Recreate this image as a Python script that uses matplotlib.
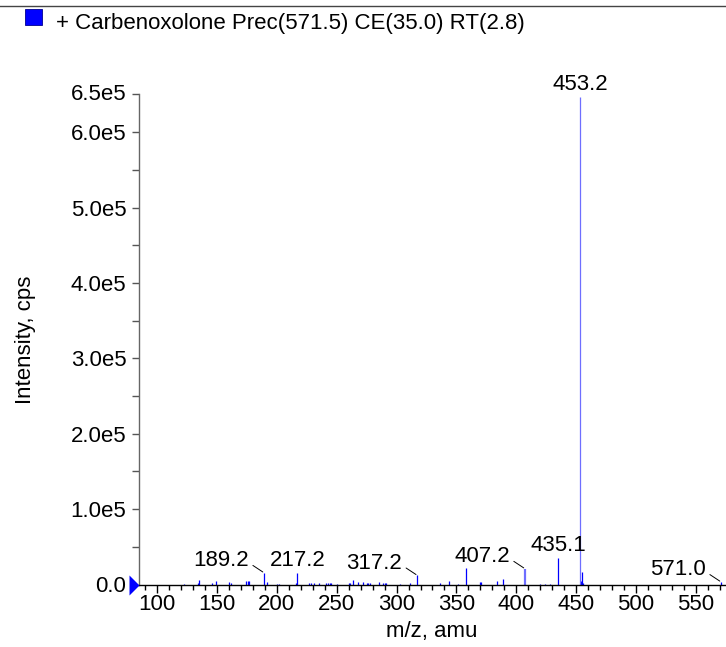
import matplotlib
matplotlib.use("Agg")
import matplotlib.pyplot as plt
import matplotlib.transforms as mtransforms
from matplotlib.lines import Line2D
from matplotlib.patches import Rectangle
from matplotlib.ticker import MultipleLocator

plt.rcParams['font.family'] = ['Liberation Sans', 'DejaVu Sans']

title_text = "+ Carbenoxolone Prec(571.5) CE(35.0) RT(2.8)"
x_label = "m/z, amu"
y_label = "Intensity, cps"

# Spectrum peaks (m/z, intensity in cps)
mz_values = [122.0, 134.0, 135.3, 146.2, 149.5, 160.0, 161.8, 174.3, 175.7, 177.0,
             189.2, 191.6, 200.0, 201.5, 215.8, 217.2, 227.0, 228.5, 230.6, 235.6,
             241.0, 242.5, 244.0, 245.6, 250.0, 259.9, 261.0, 264.0, 267.4, 271.6,
             275.0, 276.5, 278.0, 285.7, 288.6, 290.0, 291.3, 303.0, 311.3, 317.2,
             336.5, 343.4, 351.7, 357.6, 369.3, 370.4, 383.6, 389.3, 420.0, 424.0,
             428.0, 435.1, 454.2, 455.0, 456.0, 571.0]
intensities = [1000, 2000, 5500, 2000, 4000, 3000, 2500, 5000, 5000, 5000,
               15600, 3000, 1000, 1000, 2500, 14900, 1500, 1500, 1500, 2000,
               2500, 2500, 2500, 2500, 1000, 2000, 1500, 6000, 3500, 3500,
               1500, 1500, 1500, 3500, 2500, 2500, 2500, 1000, 2000, 12200,
               2000, 4000, 1000, 21500, 3500, 3500, 4500, 7000, 1000, 1000,
               1000, 34500, 5000, 16000, 2000, 3500]

# Peaks drawn in a lighter shade
light_mz = [407.2, 453.2]
light_int = [21000, 646000]

# Labelled peaks
label_mz = [189.2, 217.2, 317.2, 407.2, 435.1, 453.2, 571.0]
label_int = [15600, 14900, 12200, 21000, 34500, 646000, 3500]
label_text = ["189.2", "217.2", "317.2", "407.2", "435.1", "453.2", "571.0"]
label_leader = [True, False, True, True, False, False, True]

y_ticks = [0, 1e5, 2e5, 3e5, 4e5, 5e5, 6e5]
y_ticklabels = ["0.0", "1.0e5", "2.0e5", "3.0e5", "4.0e5", "5.0e5", "6.0e5"]
y_top_value = 6.5e5
y_top_label = "6.5e5"
x_ticks = [100, 150, 200, 250, 300, 350, 400, 450, 500, 550]

W, H = 726, 647
fig = plt.figure(figsize=(W / 100, H / 100), dpi=100)
ax = fig.add_axes([139 / W, (H - 584.5) / H, (725 - 139) / W, (584.5 - 94.4) / H])

fs = 16
blue = '#0000ff'
light = '#6e6eff'

ax.vlines(mz_values, 0, intensities, colors=blue, lw=0.9)
ax.vlines([light_mz[0]], 0, [light_int[0]], colors=light, lw=1.6)
ax.vlines([light_mz[1]], 0, [light_int[1]], colors=light, lw=0.9)

ax.set_xlim(84.8, 574.4)
ax.set_ylim(0, y_top_value)

for m, v, t, lead in zip(label_mz, label_int, label_text, label_leader):
    if lead:
        ax.annotate(t, xy=(m, v), xytext=(-15, 12), textcoords='offset pixels',
                    ha='right', va='center', fontsize=fs,
                    arrowprops=dict(arrowstyle='-', color='black', lw=0.7,
                                    relpos=(1.0, 0.4), shrinkA=1, shrinkB=1))
    else:
        ax.annotate(t, xy=(m, v), xytext=(0, 13), textcoords='offset pixels',
                    ha='center', va='center', fontsize=fs)

ax.spines['top'].set_visible(False)
ax.spines['right'].set_visible(False)
ax.spines['left'].set_color('#666666')
ax.spines['bottom'].set_color('black')
ax.spines['left'].set_linewidth(1.0)
ax.spines['bottom'].set_linewidth(1.0)

ax.set_xticks(x_ticks)
ax.set_xticklabels([str(v) for v in x_ticks], fontsize=fs)
ax.xaxis.set_minor_locator(MultipleLocator(10))
ax.set_yticks(y_ticks)
ax.set_yticklabels(y_ticklabels, fontsize=fs)
ax.yaxis.set_minor_locator(MultipleLocator(5e4))
ax.tick_params(axis='x', which='major', length=6, width=1, pad=1, color='black')
ax.tick_params(axis='x', which='minor', length=3.5, width=1, color='black')
ax.tick_params(axis='y', which='major', length=5, width=1, pad=4, color='#555555')
ax.tick_params(axis='y', which='minor', length=5, width=1, color='#555555')

left_tr = mtransforms.blended_transform_factory(
    mtransforms.offset_copy(ax.transAxes, fig=fig, x=-12, y=1, units='dots'), ax.transData)
ax.text(0, y_top_value, y_top_label, transform=left_tr, ha='right', va='center',
        fontsize=fs, clip_on=False)

# zero marker on left spine
tip_tr = mtransforms.blended_transform_factory(ax.transAxes, ax.transData)
ax.plot([0], [0], marker=[(-1, -1), (0, 0), (-1, 1), (-1, -1)], markersize=14.4,
        color=blue, markeredgewidth=0, transform=tip_tr, clip_on=False, zorder=5)

ax.set_xlabel(x_label, fontsize=fs, labelpad=4)
ax.set_ylabel(y_label, fontsize=fs, labelpad=25)

# top border and legend
fig.add_artist(Line2D([0, 1], [1 - 5.5 / H, 1 - 5.5 / H], transform=fig.transFigure,
                      color='#444444', lw=1))
fig.add_artist(Rectangle((25 / W, 1 - 25 / H), 17 / W, 16 / H, transform=fig.transFigure,
                         facecolor=blue, edgecolor='#000090', lw=0.6))
fig.text(56 / W, 1 - 23 / H, title_text, ha='left', va='center', fontsize=fs)

fig.savefig("out.png", dpi=100)
